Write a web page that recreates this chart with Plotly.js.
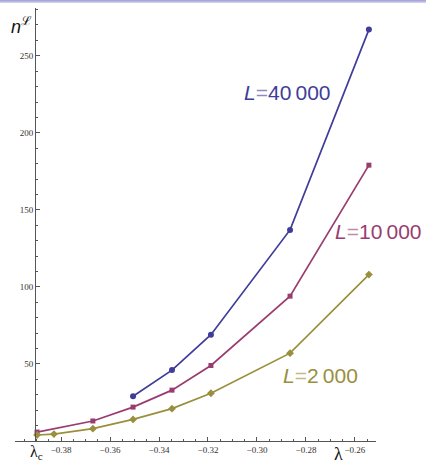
<!DOCTYPE html>
<html>
<head>
<meta charset="utf-8">
<script src="https://cdn.plot.ly/plotly-3.0.1.min.js"></script>
<style>
html,body{margin:0;padding:0;background:#fff;}
#wrap{position:relative;width:426px;height:463px;}
#bar{position:absolute;left:0;top:0;width:426px;height:3px;background:linear-gradient(to bottom,#9c9cd6,#d8d8f0);z-index:5;}
#chart{position:absolute;left:0;top:0;width:426px;height:463px;}
</style>
</head>
<body>
<div id="wrap"><div id="bar"></div><div id="chart"></div></div>
<script>
// Data
const lambda40000 = [-0.3506, -0.3347, -0.3188, -0.2865, -0.2543];
const n40000      = [29, 46, 69, 137, 267];
const lambda10000 = [-0.3898, -0.3670, -0.3506, -0.3347, -0.3188, -0.2865, -0.2543];
const n10000      = [5.8, 13, 22, 33, 49, 94, 179];
const lambda2000  = [-0.3898, -0.3829, -0.3670, -0.3506, -0.3347, -0.3188, -0.2865, -0.2543];
const n2000       = [3.9, 4.5, 8, 14, 21, 31, 57, 108];
const xTickVals = [-0.38, -0.36, -0.34, -0.32, -0.30, -0.28, -0.26];
const xTickText = ['\u22120.38', '\u22120.36', '\u22120.34', '\u22120.32', '\u22120.30', '\u22120.28', '\u22120.26'];
const yTickVals = [50, 100, 150, 200, 250];
const yTickText = ['50', '100', '150', '200', '250'];
const seriesLabels = ['L=40\u2009000', 'L=10\u2009000', 'L=2\u2009000'];

const cBlue = '#3f3d99', cMag = '#993d71', cOl = '#998f3d';

const xMinor = [];
for (let v = -0.395; v < -0.25; v += 0.005) xMinor.push(+v.toFixed(3));
const yMinor = [];
for (let v = 10; v < 281; v += 10) yMinor.push(v);

const traces = [
  {x: lambda40000, y: n40000, mode: 'lines+markers', line: {color: cBlue, width: 1.7},
   marker: {symbol: 'circle', size: 6, color: cBlue}, cliponaxis: false},
  {x: lambda10000, y: n10000, mode: 'lines+markers', line: {color: cMag, width: 1.7},
   marker: {symbol: 'square', size: 5, color: cMag}, cliponaxis: false},
  {x: lambda2000, y: n2000, mode: 'lines+markers', line: {color: cOl, width: 1.7},
   marker: {symbol: 'diamond', size: 6, color: cOl}, cliponaxis: false}
];

function lab(t, color) {
  const p = t.split('=');
  return '<i>' + p[0] + '</i><span style="color:' + color + ';opacity:0.6">=</span>' + p[1];
}

const layout = {
  width: 426, height: 463,
  margin: {l: 15, r: 50, t: 8, b: 22, pad: 0},
  paper_bgcolor: '#fff', plot_bgcolor: 'rgba(0,0,0,0)',
  showlegend: false,
  xaxis: {
    range: [-0.3988, -0.2514], showgrid: false, zeroline: false,
    showline: true, linecolor: '#555', linewidth: 1,
    ticks: 'inside', ticklen: 4, tickcolor: '#555', tickwidth: 1,
    tickmode: 'array', tickvals: xTickVals, ticktext: xTickText,
    tickfont: {family: 'Liberation Serif, serif', size: 9, color: '#333'},
    minor: {tickmode: 'array', tickvals: xMinor, ticks: 'inside', ticklen: 2, tickcolor: '#555'}
  },
  yaxis: {
    range: [0, 281], showgrid: false, zeroline: false,
    anchor: 'free', position: (35 - 15) / 361,
    showline: true, linecolor: '#555', linewidth: 1,
    ticks: 'inside', ticklen: 4, tickcolor: '#555', tickwidth: 1,
    tickmode: 'array', tickvals: yTickVals, ticktext: yTickText,
    tickfont: {family: 'Liberation Serif, serif', size: 9, color: '#333'},
    minor: {tickmode: 'array', tickvals: yMinor, ticks: 'inside', ticklen: 2, tickcolor: '#555'}
  },
  annotations: [
    {xref: 'paper', yref: 'paper', x: 0.756, y: 0.804, xanchor: 'center', yanchor: 'middle', showarrow: false,
     text: lab(seriesLabels[0], cBlue), font: {family: 'Liberation Sans, sans-serif', size: 21, color: cBlue}},
    {xref: 'paper', yref: 'paper', x: 1.006, y: 0.483, xanchor: 'center', yanchor: 'middle', showarrow: false,
     text: lab(seriesLabels[1], cMag), font: {family: 'Liberation Sans, sans-serif', size: 21, color: cMag}},
    {xref: 'paper', yref: 'paper', x: 0.845, y: 0.152, xanchor: 'center', yanchor: 'middle', showarrow: false,
     text: lab(seriesLabels[2], cOl), font: {family: 'Liberation Sans, sans-serif', size: 21, color: cOl}},
    {xref: 'paper', yref: 'paper', x: (21 - 15) / 361, y: (441 - 26) / 433, xanchor: 'center', yanchor: 'middle', showarrow: false,
     text: '<i>n</i><sup>ℒ</sup>', font: {family: 'Liberation Sans, sans-serif', size: 18, color: '#111'}},
    {xref: 'paper', yref: 'paper', x: (36 - 15) / 361, y: (441 - 452) / 433, xanchor: 'center', yanchor: 'middle', showarrow: false,
     text: 'λ<sub>c</sub>', font: {family: 'Liberation Serif, serif', size: 16, color: '#111'}},
    {xref: 'paper', yref: 'paper', x: (338 - 15) / 361, y: (441 - 454) / 433, xanchor: 'center', yanchor: 'middle', showarrow: false,
     text: 'λ', font: {family: 'Liberation Serif, serif', size: 18, color: '#111'}}
  ]
};

Plotly.newPlot('chart', traces, layout, {staticPlot: true, displayModeBar: false});
</script>
</body>
</html>
